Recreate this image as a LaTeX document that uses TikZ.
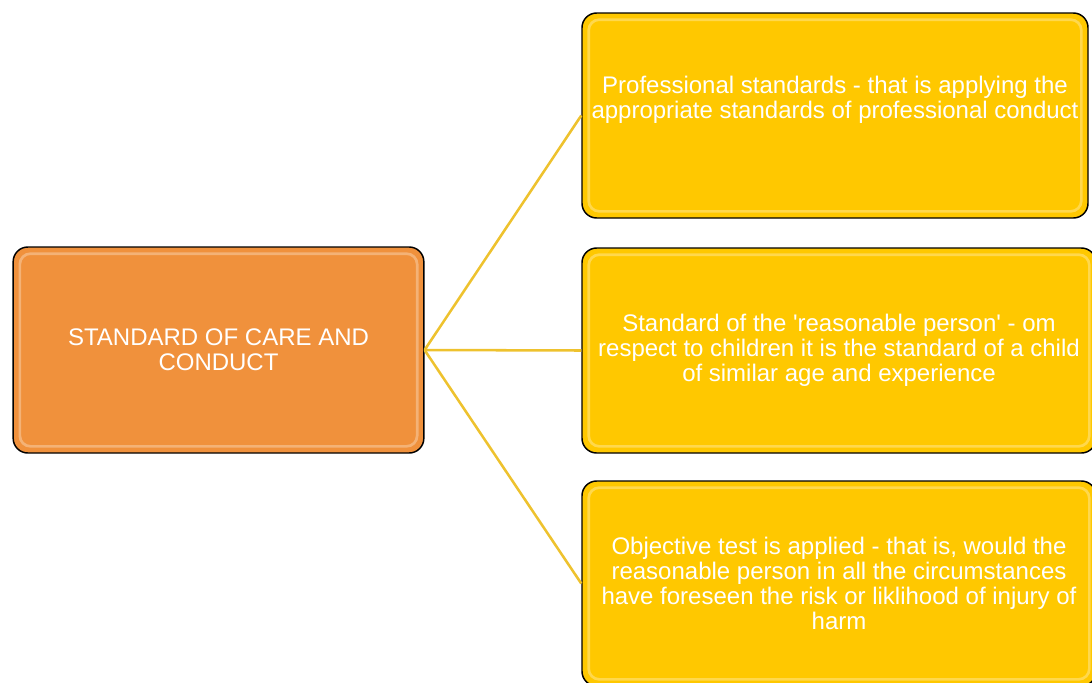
\documentclass[tikz,border=0pt]{standalone}
\usepackage{fontspec}
\setmainfont{Liberation Sans}[Ligatures=TeXOff]
\definecolor{careorange}{HTML}{F0913C}
\definecolor{leafyellow}{HTML}{FFC800}
\definecolor{linkgold}{HTML}{EEC22E}
\tikzset{
  box/.style={draw=black, line width=1.1pt, rounded corners=11pt, text=white, align=center,
    font=\fontsize{18}{18.6}\selectfont,
    path picture={\draw[white, opacity=.3, line width=2pt, rounded corners=8pt]
      ([xshift=5pt,yshift=-5pt]path picture bounding box.north west) rectangle
      ([xshift=-5pt,yshift=5pt]path picture bounding box.south east);}},
  root/.style={box, fill=careorange, minimum width=308pt, minimum height=154.5pt},
  leaf/.style={box, fill=leafyellow, minimum width=385.5pt, minimum height=153.75pt},
  leaftext/.style={text=white, align=center, font=\fontsize{18}{18.6}\selectfont},
  link/.style={draw=linkgold, line width=1.9pt}
}
\begin{document}
\begin{tikzpicture}[x=0.75pt, y=-0.75pt]
\useasboundingbox (0,0) rectangle (1092,682);
\node (care) [root] at (218.5,350) {STANDARD OF CARE AND\\CONDUCT};
\node (pro) [leaf, minimum width=379.5pt] at (835,115.5) {};
\node (protext) [leaftext] at ([yshift=12pt]pro.center) {Professional standards - that is applying the\\appropriate standards of professional conduct};
\node (reason) [leaf] at (839,350.5) {Standard of the 'reasonable person' - om\\respect to children it is the standard of a child\\of similar age and experience};
\node (obj) [leaf] at (839,583.5) {Objective test is applied - that is, would the\\reasonable person in all the circumstances\\have foreseen the risk or liklihood of injury of\\harm};
% links from the root to each leaf
\draw [link] (care.east) -- (pro.west);
\draw [link] (care.east) -- (reason.west);
\draw [link] (care.east) -- (obj.west);
\end{tikzpicture}
\end{document}
